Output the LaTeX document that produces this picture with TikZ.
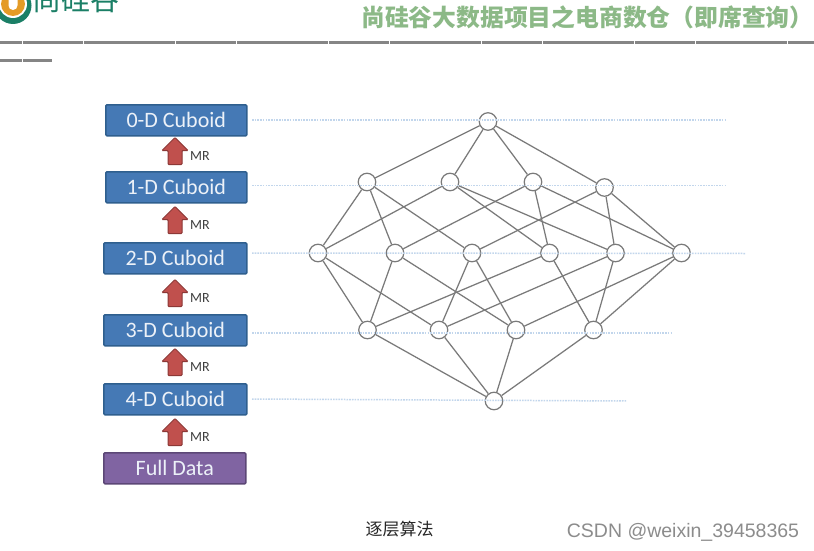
\documentclass[tikz,border=0pt]{standalone}
\usepackage{fontspec}
\usetikzlibrary{shapes.arrows}
\setmainfont{Carlito}
\newfontfamily\cjk{Noto Sans CJK SC}
\newfontfamily\wmark{Liberation Sans}
\definecolor{boxblue}{HTML}{4579B5}
\definecolor{boxblueb}{HTML}{2F5F8E}
\definecolor{boxpurple}{HTML}{8064A2}
\definecolor{boxpurpleb}{HTML}{5C4776}
\definecolor{arrowred}{HTML}{C0504D}
\definecolor{arrowredb}{HTML}{8C3836}
\definecolor{edgegray}{HTML}{7A7A7A}
\definecolor{dotblue}{HTML}{C2D6EC}
\definecolor{titlegreen}{HTML}{8CB987}
\definecolor{logogreen}{HTML}{1B7F66}
\definecolor{logoorange}{HTML}{E49B26}
\definecolor{rulegray}{HTML}{858585}
\tikzset{
  cuboid/.style={draw=boxblueb,fill=boxblue,line width=1.6pt,rounded corners=1.2pt,inner sep=0pt,
    text=white!90!boxblue,font=\fontsize{22}{26}\selectfont,anchor=north west},
  fulldata/.style={cuboid,draw=boxpurpleb,fill=boxpurple},
  vertexnode/.style={circle,draw=edgegray,line width=1.25pt,minimum size=17.5pt,inner sep=0pt},
  edgeline/.style={draw=edgegray,line width=1.25pt},
  levelline/.style={draw=dotblue,line width=1.5pt,dash pattern=on 1.6pt off 1.1pt},
  mrarrow/.style={single arrow,draw=arrowredb,fill=arrowred,line width=1pt,rounded corners=0.8pt,
    shape border rotate=90,text width=13pt,minimum height=27pt,inner sep=0pt,
    single arrow head extend=6pt,single arrow head indent=0pt},
  mrlabel/.style={inner sep=0pt,text=black!75,font=\fontsize{14}{16}\selectfont},
  headrule/.style={draw=rulegray,line width=3pt,dash pattern=on 30.2pt off 0.4pt,dash phase=8pt},
}
\begin{document}
\begin{tikzpicture}[x=1pt,y=-1pt]
\useasboundingbox (0,0) rectangle (814,551);
\fill[white] (0,0) rectangle (814,551);
% logo (cut off by the top edge)
\begin{scope}
\clip (0,0) rectangle (814,551);
\fill[logogreen] (13,5.5) circle (18.5);
\fill[white] (13,4) circle (14);
\fill[logoorange] (13,4) circle (12);
\fill[white] (8.5,-2) -- (8.5,5.5) arc[start angle=180,end angle=0,radius=4.5] -- (17.5,-2) -- cycle;
\node[inner sep=0pt,anchor=center,text=logogreen,font=\cjk\fontsize{29}{30}\selectfont] (logotext) at (76,-1) {尚硅谷};
\end{scope}
% title and rules
\node[inner sep=0pt,anchor=west,text=titlegreen,font=\cjk\bfseries\fontsize{23.8}{26}\selectfont] (title) at (361,17) {尚硅谷大数据项目之电商数仓（即席查询）};
\coordinate (r1a) at (0,42.5); \coordinate (r1b) at (814,42.5);
\coordinate (r2a) at (0,60.5); \coordinate (r2b) at (52,60.5);
\draw[headrule] (r1a) -- (r1b);
\draw[headrule] (r2a) -- (r2b);
% boxes
\node[cuboid,minimum width=141pt,minimum height=31pt] (c0) at (105,104) {0-D Cuboid};
\node[cuboid,minimum width=141pt,minimum height=31pt] (c1) at (105,171) {1-D Cuboid};
\node[cuboid,minimum width=143pt,minimum height=31pt] (c2) at (103,242) {2-D Cuboid};
\node[cuboid,minimum width=143pt,minimum height=31pt] (c3) at (103,314) {3-D Cuboid};
\node[cuboid,minimum width=143pt,minimum height=31pt] (c4) at (103,383) {4-D Cuboid};
\node[fulldata,minimum width=142pt,minimum height=31pt] (fd) at (103,452) {Full Data};
% arrows
\node[mrarrow] (a0) at (175,154.5) {};
\node[mrarrow] (a1) at (175,223.5) {};
\node[mrarrow] (a2) at (175,296.5) {};
\node[mrarrow] (a3) at (175,365.5) {};
\node[mrarrow] (a4) at (175,435.5) {};
\node[mrlabel] (m0) at (200,156.5) {MR};
\node[mrlabel] (m1) at (200,225.5) {MR};
\node[mrlabel] (m2) at (200,298.5) {MR};
\node[mrlabel] (m3) at (200,367.5) {MR};
\node[mrlabel] (m4) at (200,437) {MR};
% lattice vertices
\node[vertexnode] (T) at (488,121.5) {};
\node[vertexnode] (A) at (367,182) {};
\node[vertexnode] (B) at (450,182) {};
\node[vertexnode] (C) at (533,182) {};
\node[vertexnode] (D) at (604.5,187.5) {};
\node[vertexnode] (E) at (318,253) {};
\node[vertexnode] (F) at (395,253) {};
\node[vertexnode] (G) at (472,253) {};
\node[vertexnode] (H) at (549.5,253) {};
\node[vertexnode] (I) at (615.5,253) {};
\node[vertexnode] (J) at (681.5,253) {};
\node[vertexnode] (K) at (367.5,330) {};
\node[vertexnode] (L) at (439,330) {};
\node[vertexnode] (M) at (516,330) {};
\node[vertexnode] (N) at (593.5,330) {};
\node[vertexnode] (P) at (494,401) {};
% lattice edges
\foreach \u/\v in {T/A,T/B,T/C,T/D,
  A/E,A/F,A/G,B/E,B/H,B/I,C/F,C/H,C/J,D/G,D/I,D/J,
  E/K,E/L,F/K,F/M,G/L,G/M,H/K,H/N,I/L,I/N,J/M,J/N,
  K/P,L/P,M/P,N/P}
  \draw[edgeline] (\u) -- (\v);
% level lines
\coordinate (l0) at (727,120); \coordinate (l1) at (727,185.5); \coordinate (l2) at (745,253.5);
\coordinate (l3) at (671,333); \coordinate (l4) at (627,401);
\coordinate (s0) at (252,120); \coordinate (s1) at (252,185.5); \coordinate (s2) at (252,253);
\coordinate (s3) at (252,333); \coordinate (s4) at (252,399);
\draw[levelline] (s0) -- (l0);
\draw[levelline] (s1) -- (l1);
\draw[levelline] (s2) -- (l2);
\draw[levelline] (s3) -- (l3);
\draw[levelline] (s4) -- (l4);
% caption and watermark
\node[inner sep=0pt,text=black!85,font=\cjk\fontsize{17}{20}\selectfont] (cap) at (399.5,529.5) {逐层算法};
\node[inner sep=0pt,text=black!45,font=\wmark\fontsize{19.5}{22}\selectfont] (wm) at (683,532) {CSDN @weixin\_39458365};
\end{tikzpicture}
\end{document}
